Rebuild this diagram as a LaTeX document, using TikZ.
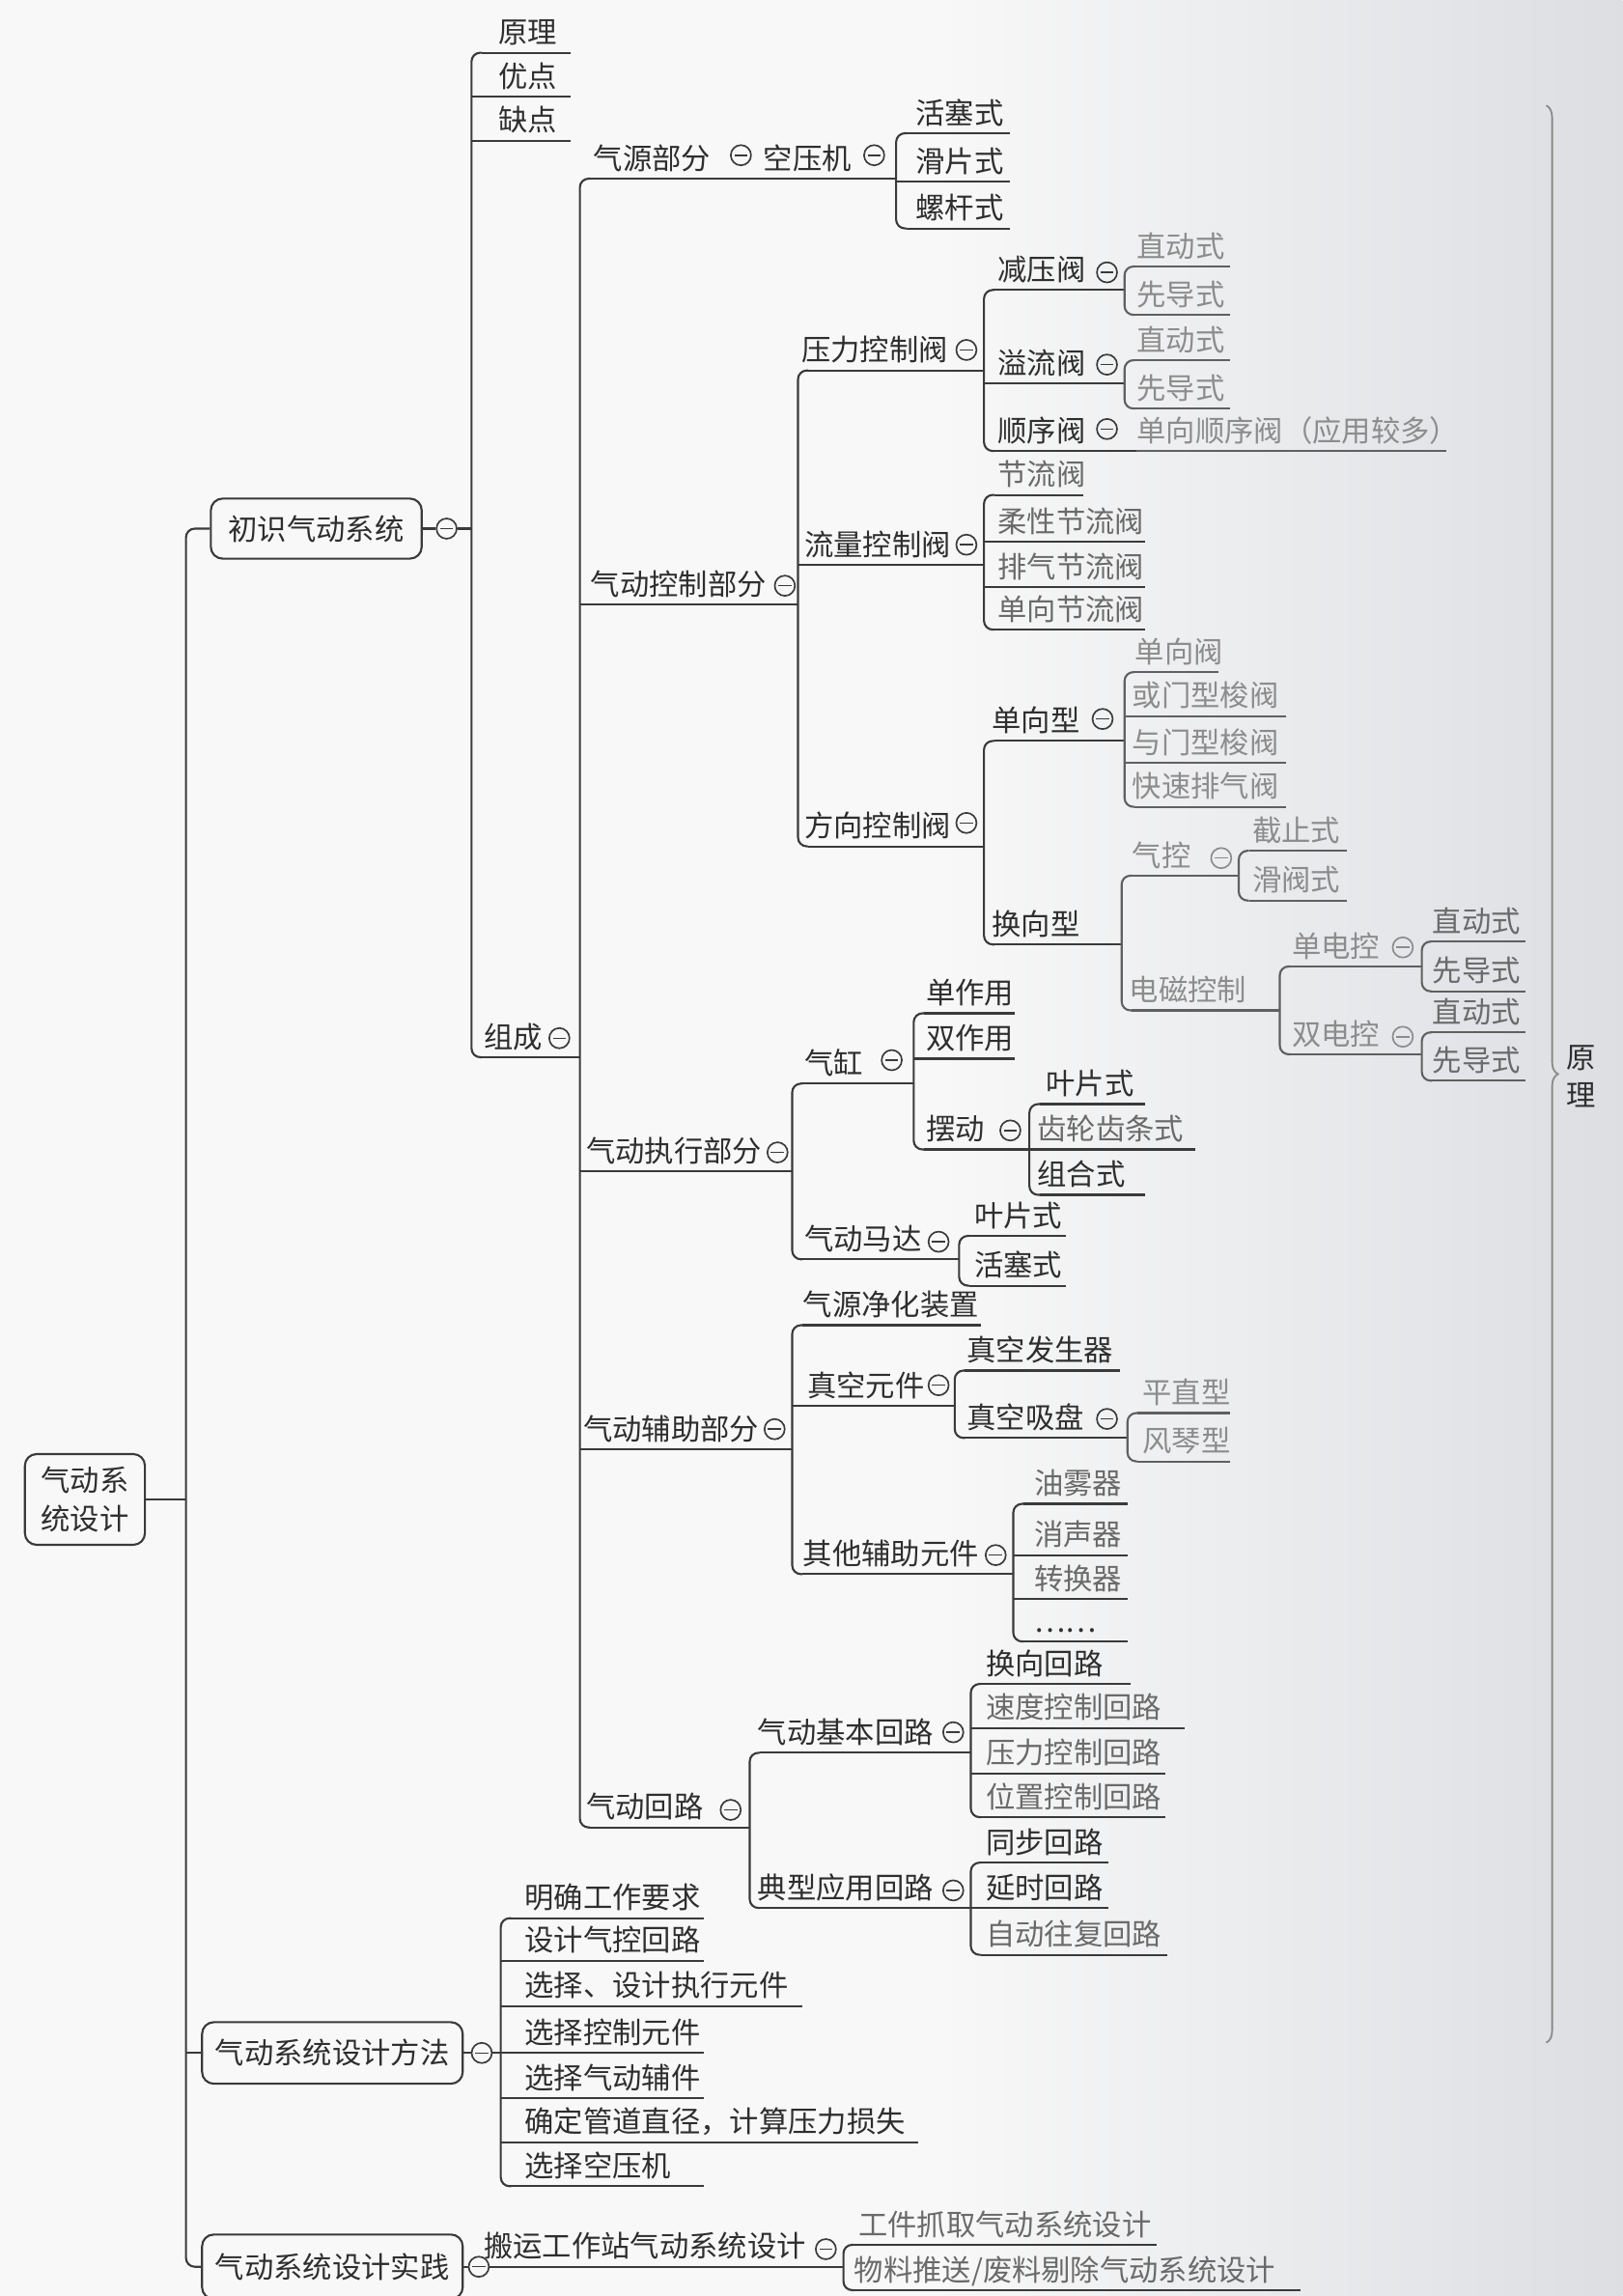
\documentclass[tikz,border=0pt]{standalone}
\usepackage{fontspec}
\newfontfamily\cjk{Noto Sans CJK SC}
\usetikzlibrary{decorations.pathreplacing}
\definecolor{ink}{HTML}{2E2E2E}
\definecolor{lnc}{HTML}{3A3A3A}
\definecolor{fa}{HTML}{6A6A6A}
\definecolor{fb}{HTML}{8C8C8C}
\definecolor{lf}{HTML}{606060}
\definecolor{bgL}{HTML}{F8F8F8}
\definecolor{bgR}{HTML}{DCDEE2}
\definecolor{brcc}{HTML}{8A8A8A}
\tikzset{
 ln/.style={line width=0.7pt, draw=lnc},
 tx/.style={inner sep=0pt, font=\cjk\fontsize{10pt}{13pt}\selectfont, text=ink},
 box/.style={draw=lnc, line width=0.7pt, rounded corners=4pt, inner sep=0pt, align=center,
   font=\cjk\fontsize{10pt}{13.5pt}\selectfont, text=ink},
 mn/.style={circle, draw=lnc, line width=0.55pt, minimum size=6.9pt, inner sep=0pt,
   path picture={\draw[line width=0.5pt,draw=lnc] ([xshift=1.2pt]path picture bounding box.west) -- ([xshift=-1.2pt]path picture bounding box.east);}},
 mnf/.style={circle, draw=fb, line width=0.55pt, minimum size=6.9pt, inner sep=0pt,
   path picture={\draw[line width=0.5pt,draw=fb] ([xshift=1.2pt]path picture bounding box.west) -- ([xshift=-1.2pt]path picture bounding box.east);}},
 brc/.style={draw=brcc, line width=0.6pt},
}
% #1 line colour, #2 name, #3 x start, #4 y, #5 x end, #6 text x, #7 text colour, #8 text
\newcommand\UL[8][lnc]{%
  \coordinate (#2-l) at (#3,#4);
  \coordinate (#2-r) at (#5,#4);
  \draw[ln,draw=#1] (#2-l) -- (#2-r);
  \node[tx,text=#7,anchor=base west] (#2) at (#6,#4-6.5) {#8};}
\newcommand\VB[3][lnc]{\draw[ln,draw=#1,rounded corners=3pt] (#2-l) -- ++(-7,0) |- (#3-l);}
\begin{document}
\begin{tikzpicture}[x=0.5pt,y=-0.5pt]
\useasboundingbox (0,0) rectangle (1108,1568);
\fill[bgL] (0,0) rectangle (1108,1568);
\shade[left color=bgL, right color=bgR] (640,0) rectangle (1108,1568);

% root and first level
\node[box, minimum width=41pt, minimum height=31pt] (root) at (58,1024) {气动系\\统设计};
\node[box, minimum width=72pt, minimum height=20.5pt] (b1) at (216,361) {初识气动系统};
\node[box, minimum width=89pt, minimum height=21pt] (b2) at (227,1402) {气动系统设计方法};
\node[box, minimum width=89pt, minimum height=22pt] (b3) at (227,1548) {气动系统设计实践};
\node[mn] (m1) at (305,361) {};
\node[mn] (m2) at (329,1402) {};
\node[mn] (m3) at (327,1548) {};
\coordinate (tr) at (127,1024);
\coordinate (j1) at (322,361);
\draw[ln, rounded corners=3pt] (b1.west) -- (b1.west -| tr) |- (b3.west);
\draw[ln] (root.east) -- (tr);
\draw[ln] (b2.west) -- (b2.west -| tr);
\draw[ln] (b1.east) -- (m1.west);
\draw[ln] (m1.east) -- (j1);
\draw[ln] (b2.east) -- (m2.west);
\draw[ln] (b3.east) -- (m3.west);

% children of 初识气动系统
\UL{yl}{329}{36}{390}{340}{ink}{原理}
\UL{yd}{322}{66}{390}{340}{ink}{优点}
\UL{qd}{322}{96}{390}{340}{ink}{缺点}
\UL{zc}{329}{722}{396}{330}{ink}{组成}
\node[mn] (zc-m) at (382,709) {};
\VB{yl}{zc}

% children of 组成
\UL{qy}{403}{122}{515}{405}{ink}{气源部分}
\node[mn] (qy-m) at (506,106) {};
\UL{kyj}{515}{122}{612}{521}{ink}{空压机}
\node[mn] (kyj-m) at (597,106) {};
\UL{kz}{396}{413}{545}{403}{ink}{气动控制部分}
\node[mn] (kz-m) at (536,400) {};
\UL{zx}{396}{800}{541}{400}{ink}{气动执行部分}
\node[mn] (zx-m) at (531,787) {};
\UL{fz}{396}{990}{541}{398}{ink}{气动辅助部分}
\node[mn] (fz-m) at (529,976) {};
\UL{hl}{403}{1248}{512}{400}{ink}{气动回路}
\node[mn] (hl-m) at (499,1236) {};
\VB{qy}{hl}

% 空压机
\UL{hs}{619}{91}{690}{625}{ink}{活塞式}
\UL{hp}{612}{124}{690}{625}{ink}{滑片式}
\UL{lg}{619}{156}{690}{625}{ink}{螺杆式}
\VB{hs}{lg}

% 气动控制部分
\UL{yk}{552}{253}{672}{547}{ink}{压力控制阀}
\node[mn] (yk-m) at (660,239) {};
\UL{lk}{545}{386}{672}{549}{ink}{流量控制阀}
\node[mn] (lk-m) at (660,372) {};
\UL{fk}{552}{578}{672}{549}{ink}{方向控制阀}
\node[mn] (fk-m) at (660,562) {};
\VB{yk}{fk}

% 压力控制阀
\UL{jy}{679}{198}{768}{681}{ink}{减压阀}
\node[mn] (jy-m) at (756,186) {};
\UL{ylf}{672}{262}{768}{681}{ink}{溢流阀}
\node[mn] (ylf-m) at (756,249) {};
\UL{sx}{679}{308}{776}{681}{ink}{顺序阀}
\node[mn] (sx-m) at (756,293) {};
\UL[lf]{sx2}{776}{308}{988}{776}{fb}{单向顺序阀（应用较多）}
\VB{jy}{sx}
\UL[lf]{jy1}{775}{182}{840}{776}{fb}{直动式}
\UL[lf]{jy2}{775}{215}{840}{776}{fb}{先导式}
\VB[lf]{jy1}{jy2}
\UL[lf]{yl1}{775}{246}{840}{776}{fb}{直动式}
\UL[lf]{yl2}{775}{279}{840}{776}{fb}{先导式}
\VB[lf]{yl1}{yl2}

% 流量控制阀
\UL{jl}{679}{338}{740}{681}{fa}{节流阀}
\UL{rx}{672}{370}{782}{681}{fa}{柔性节流阀}
\UL{pq}{672}{401}{782}{681}{fa}{排气节流阀}
\UL{dxj}{679}{430}{782}{681}{fa}{单向节流阀}
\VB{jl}{dxj}

% 方向控制阀
\UL{dxx}{679}{506}{768}{677}{ink}{单向型}
\node[mn] (dxx-m) at (753,491) {};
\UL{hx}{679}{645}{766}{677}{ink}{换向型}
\VB{dxx}{hx}
\UL[lf]{dxf}{775}{459}{832}{775}{fb}{单向阀}
\UL[lf]{hm}{768}{489}{878}{773}{fb}{或门型梭阀}
\UL[lf]{ym}{768}{521}{878}{773}{fb}{与门型梭阀}
\UL[lf]{ks}{775}{551}{878}{773}{fb}{快速排气阀}
\VB[lf]{dxf}{ks}
\UL[lf]{qk}{773}{598}{846}{773}{fb}{气控}
\node[mnf] (qk-m) at (834,586) {};
\UL[lf]{dc}{773}{690}{874}{771}{fb}{电磁控制}
\VB[lf]{qk}{dc}
\UL[lf]{jz}{853}{581}{920}{855}{fb}{截止式}
\UL[lf]{hf}{853}{615}{920}{855}{fb}{滑阀式}
\VB[lf]{jz}{hf}
\UL[lf]{ddk}{881}{660}{971}{882}{fb}{单电控}
\node[mnf] (ddk-m) at (958,647) {};
\UL[lf]{sdk}{881}{720}{971}{882}{fb}{双电控}
\node[mnf] (sdk-m) at (958,708) {};
\VB[lf]{ddk}{sdk}
\UL[lf]{d1}{978}{643}{1042}{978}{fa}{直动式}
\UL[lf]{d2}{978}{677}{1042}{978}{fa}{先导式}
\VB[lf]{d1}{d2}
\UL[lf]{s1}{978}{705}{1042}{978}{fa}{直动式}
\UL[lf]{s2}{978}{738}{1042}{978}{fa}{先导式}
\VB[lf]{s1}{s2}

% 气动执行部分
\UL{qg}{548}{740}{624}{549}{ink}{气缸}
\node[mn] (qg-m) at (609,724) {};
\UL{md}{548}{860}{655}{549}{ink}{气动马达}
\node[mn] (md-m) at (641,848) {};
\VB{qg}{md}
\UL{dzy}{631}{692}{693}{632}{ink}{单作用}
\UL{szy}{624}{723}{693}{632}{ink}{双作用}
\UL{bd}{631}{785}{703}{632}{ink}{摆动}
\node[mn] (bd-m) at (690,772) {};
\VB{dzy}{bd}
\UL{yp}{710}{754}{782}{714}{ink}{叶片式}
\UL{cl}{703}{785}{816}{708}{fa}{齿轮齿条式}
\UL{zh}{710}{816}{782}{708}{ink}{组合式}
\VB{yp}{zh}
\UL{yp2}{662}{844}{728}{665}{ink}{叶片式}
\UL{hs2}{662}{878}{728}{665}{ink}{活塞式}
\VB{yp2}{hs2}

% 气动辅助部分
\UL{jh}{548}{905}{670}{548}{ink}{气源净化装置}
\UL{zk}{541}{960}{652}{551}{ink}{真空元件}
\node[mn] (zk-m) at (641,946) {};
\UL{qt}{548}{1075}{692}{548}{ink}{其他辅助元件}
\node[mn] (qt-m) at (680,1062) {};
\VB{jh}{qt}
\UL{fs}{659}{936}{765}{660}{ink}{真空发生器}
\UL{xp}{659}{982}{770}{660}{ink}{真空吸盘}
\node[mn] (xp-m) at (756,969) {};
\VB{fs}{xp}
\UL[lf]{pz}{777}{965}{840}{780}{fb}{平直型}
\UL[lf]{fq}{777}{998}{840}{780}{fb}{风琴型}
\VB[lf]{pz}{fq}
\UL{yw}{699}{1027}{770}{706}{fa}{油雾器}
\UL{xs}{692}{1062}{770}{706}{fa}{消声器}
\UL{zhq}{692}{1092}{770}{706}{fa}{转换器}
\UL{dd}{699}{1121}{770}{706}{ink}{……}
\VB{yw}{dd}

% 气动回路
\UL{jb}{519}{1197}{663}{517}{ink}{气动基本回路}
\node[mn] (jb-m) at (651,1183) {};
\UL{dxh}{519}{1303}{663}{517}{ink}{典型应用回路}
\node[mn] (dxh-m) at (651,1291) {};
\VB{jb}{dxh}
\UL{hxh}{670}{1150}{772}{673}{ink}{换向回路}
\UL{sd}{663}{1180}{809}{673}{fa}{速度控制回路}
\UL{ylk}{663}{1211}{796}{673}{fa}{压力控制回路}
\UL{wz}{670}{1241}{796}{673}{fa}{位置控制回路}
\VB{hxh}{wz}
\UL{tb}{670}{1272}{757}{673}{ink}{同步回路}
\UL{ys}{663}{1303}{757}{673}{ink}{延时回路}
\UL{zd}{670}{1335}{797}{673}{fa}{自动往复回路}
\VB{tb}{zd}

% 气动系统设计方法
\UL{mq}{349}{1310}{481}{358}{ink}{明确工作要求}
\UL{sj}{342}{1339}{481}{358}{ink}{设计气控回路}
\UL{xz1}{342}{1370}{548}{358}{ink}{选择、设计执行元件}
\UL{xz2}{342}{1402}{481}{358}{ink}{选择控制元件}
\UL{xz3}{342}{1433}{481}{358}{ink}{选择气动辅件}
\UL{qdz}{342}{1463}{627}{358}{ink}{确定管道直径，计算压力损失}
\UL{xz4}{349}{1493}{481}{358}{ink}{选择空压机}
\VB{mq}{xz4}
\draw[ln] (m2.east) -- (xz2-l);

% 气动系统设计实践
\UL{by}{334}{1548}{576}{330}{ink}{搬运工作站气动系统设计}
\node[mn] (by-m) at (564,1536) {};
\UL{gj}{583}{1533}{790}{586}{fa}{工件抓取气动系统设计}
\UL{wl}{583}{1564}{888}{583}{fa}{物料推送/废料剔除气动系统设计}
\VB{gj}{wl}

% brace and label
\coordinate (bt) at (1056,72);
\coordinate (bb) at (1056,1395);
\draw[brc, decorate, decoration={brace, amplitude=4pt}] (bt) -- (bb);
\node[tx, align=center, font=\cjk\fontsize{10pt}{13pt}\selectfont] (ylb) at (1080,735) {原\\理};
\end{tikzpicture}
\end{document}
